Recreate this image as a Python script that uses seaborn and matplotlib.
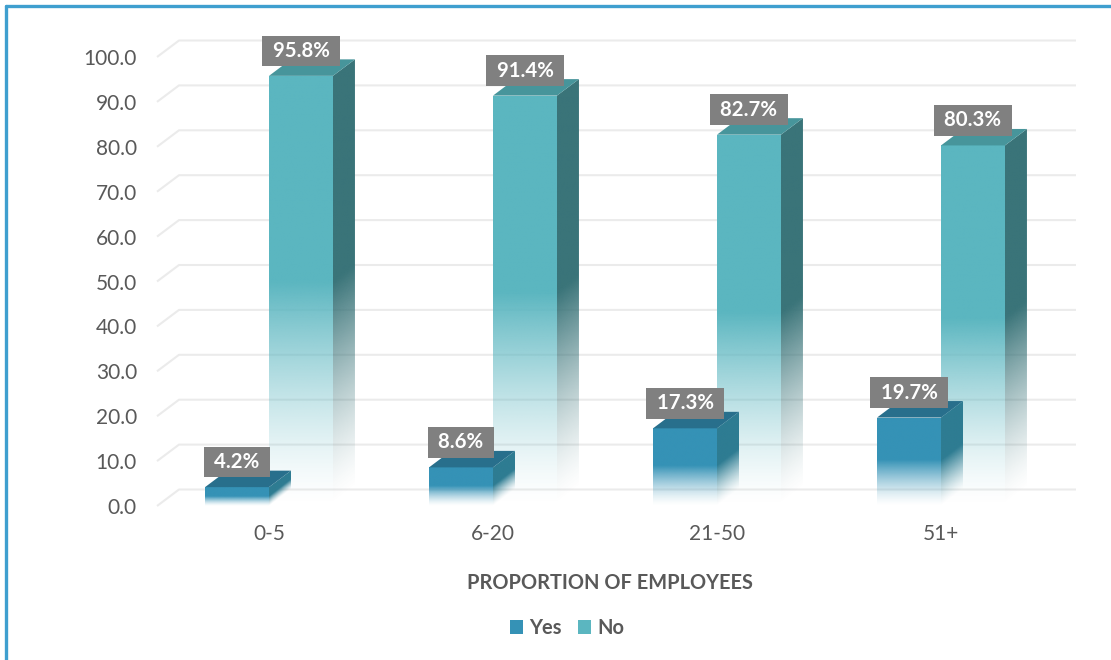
import numpy as np
import pandas as pd
import matplotlib
matplotlib.use("Agg")
import matplotlib.pyplot as plt
import seaborn as sns
from matplotlib.patches import Polygon, Patch
from matplotlib.lines import Line2D

# ---- data -------------------------------------------------------------
categories = ["0-5", "6-20", "21-50", "51+"]
series = ["Yes", "No"]
yes_values = [4.2, 8.6, 17.3, 19.7]
no_values = [95.8, 91.4, 82.7, 80.3]
y_ticks = [0, 10, 20, 30, 40, 50, 60, 70, 80, 90, 100]

df = pd.DataFrame({
    "size": categories * 2,
    "answer": ["Yes"] * len(categories) + ["No"] * len(categories),
    "pct": yes_values + no_values,
})

# ---- style ------------------------------------------------------------
sns.set_theme(style="white")
plt.rcParams["font.family"] = ["Lato", "DejaVu Sans"]

TEXT = "#595959"
FACE = {"Yes": "#3592B6", "No": "#5BB6C0"}
TOP = {"Yes": "#286F8C", "No": "#47959B"}
SIDE = {"Yes": "#2E7C92", "No": "#3A7479"}
GRID = "#EBEBEB"

W, H = 1111, 660
fig = plt.figure(figsize=(W / 100, H / 100), dpi=100)
fig.patch.set_facecolor("white")

# plot box in pixels (front plane), plus room for the back wall
left_px, right_px, bottom_px, top_px = 157, 1076, 506, 30
ax = fig.add_axes([left_px / W, 1 - bottom_px / H,
                   (right_px - left_px) / W, (bottom_px - top_px) / H])

unit_x = 224.0   # pixels per category
unit_y = 4.49    # pixels per percentage point
xlim = (-0.5, -0.5 + (right_px - left_px) / unit_x)
ylim = (0, (bottom_px - top_px) / unit_y)

# depth of the 3-D extrusion, in data units
depth_dx = 22 / unit_x
depth_dy = 16.5 / unit_y

sns.barplot(data=df, x="size", y="pct", hue="answer", order=categories,
            hue_order=series, palette=FACE, width=0.571, gap=0,
            saturation=1, legend=False, ax=ax, errorbar=None)
ax.set_autoscale_on(False)
ax.set_xlim(*xlim)
ax.set_ylim(*ylim)

# back-wall gridlines with the slanted floor edge on the left
for v in y_ticks:
    ax.plot([-0.5, -0.5 + depth_dx, xlim[1]], [v, v + depth_dy, v + depth_dy],
            color=GRID, lw=1.5, zorder=1, solid_capstyle="butt", clip_on=False)

FADE = 0.52  # fraction of the bar height that fades out toward the floor


def fade_alpha(t):
    return np.clip(t / FADE, 0, 1) ** 1.4


def gradient_image(color, xs, ys, h, x_start, slope):
    rgb = np.array(matplotlib.colors.to_rgb(color))
    X, Y = np.meshgrid(xs, ys)
    base = (X - x_start) * slope if slope else 0.0
    t = (Y - base) / h
    img = np.zeros((len(ys), len(xs), 4))
    img[..., :3] = rgb
    img[..., 3] = fade_alpha(t)
    return img


bars = list(ax.patches)
for p in bars:
    x0 = p.get_x()
    w = p.get_width()
    h = p.get_height()
    x1 = x0 + w
    cx = x0 + w / 2
    idx = int(round(cx))
    key = "Yes" if cx < idx else "No"
    z = 3 if key == "Yes" else 2

    p.set_facecolor("none")
    p.set_edgecolor("none")

    # front face with vertical fade
    ys = np.linspace(0, h, 300)
    img = gradient_image(FACE[key], np.array([0.0, 1.0]), ys, h, 0, 0)
    im = ax.imshow(img, extent=(x0, x1, 0, h), origin="lower",
                   aspect="auto", zorder=z, interpolation="bilinear")
    im.set_clip_path(p)

    # side face
    side = Polygon([(x1, 0), (x1 + depth_dx, depth_dy),
                    (x1 + depth_dx, h + depth_dy), (x1, h)],
                   closed=True, facecolor="none", edgecolor="none", zorder=z)
    ax.add_patch(side)
    xs = np.linspace(x1, x1 + depth_dx, 40)
    ys = np.linspace(0, h + depth_dy, 300)
    img = gradient_image(SIDE[key], xs, ys, h, x1, depth_dy / depth_dx)
    im = ax.imshow(img, extent=(x1, x1 + depth_dx, 0, h + depth_dy),
                   origin="lower", aspect="auto", zorder=z,
                   interpolation="bilinear")
    im.set_clip_path(side)

    # top face
    ax.add_patch(Polygon([(x0, h), (x1, h), (x1 + depth_dx, h + depth_dy),
                          (x0 + depth_dx, h + depth_dy)],
                         closed=True, facecolor=TOP[key], edgecolor="none",
                         zorder=z))

    # value label
    ax.annotate(f" {h:.1f}% ", xy=(cx, h), xytext=(0, 18),
                textcoords="offset points", ha="center", va="center",
                color="white", fontweight="bold", fontsize=14.7, zorder=6,
                bbox=dict(boxstyle="square,pad=0.26", fc="#808080", ec="none"))

ax.set_autoscale_on(False)
ax.set_xlim(*xlim)
ax.set_ylim(*ylim)

# axes text
ax.set_yticks(y_ticks)
ax.set_yticklabels([f"{v:.1f}" for v in y_ticks])
ax.tick_params(axis="y", length=0, pad=14.4, labelsize=15, labelcolor=TEXT)
ax.tick_params(axis="x", length=0, pad=13, labelsize=15, labelcolor=TEXT)
ax.set_xlabel("")
ax.set_ylabel("")
for s in ax.spines.values():
    s.set_visible(False)
ax.set_facecolor("none")

fig.text(609.5 / W, 1 - 583 / H, "PROPORTION OF EMPLOYEES", ha="center",
         va="center", fontsize=14.4, fontweight="bold", color=TEXT)

handles = [Patch(facecolor=FACE[s], edgecolor="none") for s in series]
fig.legend(handles=handles, labels=series, loc="center",
           bbox_to_anchor=(567 / W, 1 - 628 / H), ncol=2, frameon=False,
           handlelength=0.67, handleheight=0.67, handletextpad=0.3,
           columnspacing=0.8, prop=dict(weight="bold", size=14.5),
           labelcolor=TEXT)

# frame lines along the top and left edge
BORDER = "#3F9FCF"
fig.add_artist(Line2D([5.5 / W, 5.5 / W], [0, 1 - 5.5 / H],
                      transform=fig.transFigure, color=BORDER, lw=2.4))
fig.add_artist(Line2D([5.5 / W, 1], [1 - 5.5 / H, 1 - 5.5 / H],
                      transform=fig.transFigure, color=BORDER, lw=2.4))

fig.savefig("out.png", dpi=100, facecolor="white")
